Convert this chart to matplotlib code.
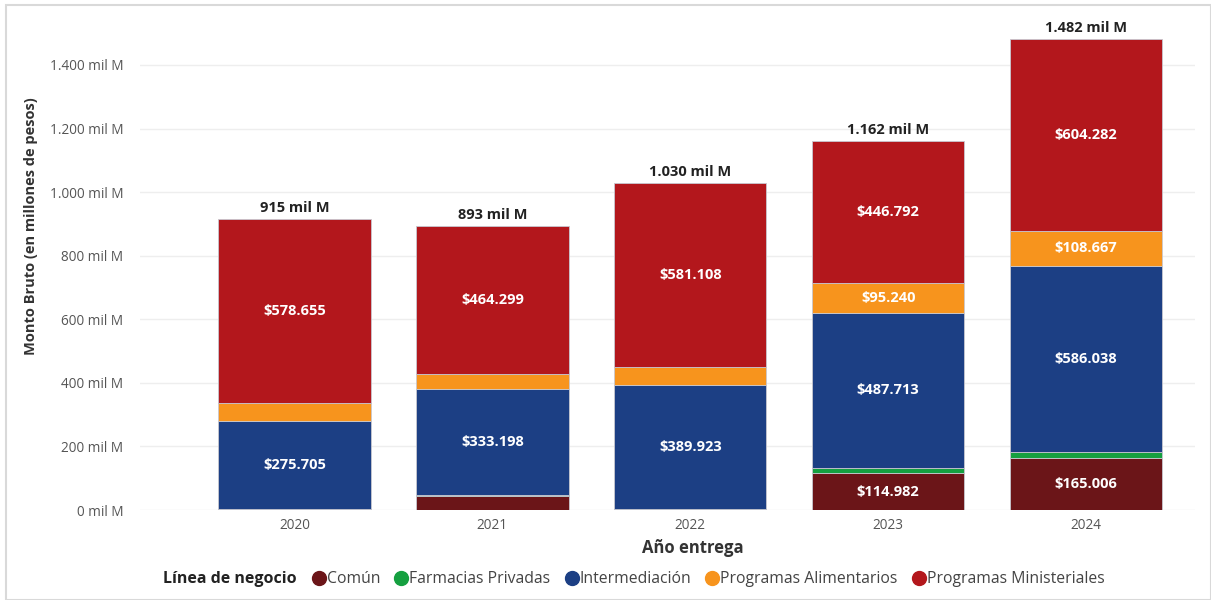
import matplotlib.pyplot as plt
import numpy as np
from matplotlib.lines import Line2D
from matplotlib.patches import Rectangle

plt.rcParams['font.family'] = ['Open Sans', 'DejaVu Sans']

# values in "mil M" (thousands of millions of pesos)
years = ["2020", "2021", "2022", "2023", "2024"]
series_names = ["Común", "Farmacias Privadas", "Intermediación",
                "Programas Alimentarios", "Programas Ministeriales"]
comun = [3.0, 44.0, 0.5, 114.982, 165.006]
farmacias = [1.5, 2.0, 3.0, 17.3, 18.0]
intermediacion = [275.705, 333.198, 389.923, 487.713, 586.038]
alimentarios = [56.5, 49.5, 55.5, 95.240, 108.667]
ministeriales = [578.655, 464.299, 581.108, 446.792, 604.282]
y_ticks = [0, 200, 400, 600, 800, 1000, 1200, 1400]

colors = ["#6B1518", "#15A040", "#1C3F84", "#F7941D", "#B3171C"]
series = [comun, farmacias, intermediacion, alimentarios, ministeriales]

fig = plt.figure(figsize=(12.11, 6), dpi=100)
ax = fig.add_axes([140 / 1211, 90 / 600, 1055 / 1211, 500 / 600])

x = np.arange(len(years))
bottom = np.zeros(len(years))
for name, vals, col in zip(series_names, series, colors):
    vals = np.array(vals)
    ax.bar(x, vals, 0.77, bottom=bottom, color=col, label=name,
           edgecolor='#c8c8d0', linewidth=0.6, zorder=2)
    for xi, b, v in zip(x, bottom, vals):
        if v > 90:
            ax.text(xi, b + v / 2, f"${v:.3f}", ha='center', va='center',
                    color='white', fontsize=10.5, fontweight='bold', zorder=3)
    bottom += vals

for xi, t in zip(x, bottom):
    lab = f"{round(t):,} mil M".replace(",", ".")
    ax.text(xi, t + 12, lab, ha='center', va='bottom', fontsize=10.5,
            fontweight='bold', color='#222222')

ax.set_xlim(-0.78, 4.55)
ax.set_ylim(0, 1573)
ax.set_xticks(x)
ax.set_xticklabels(years)
ax.set_yticks(y_ticks)
ax.set_yticklabels([f"{v:,} mil M".replace(",", ".") for v in y_ticks])
ax.tick_params(axis='both', length=0, labelsize=9.8, colors='#555555')
ax.tick_params(axis='y', pad=12)
ax.tick_params(axis='x', pad=6)
ax.grid(axis='y', color='#eeeeee', linewidth=1, zorder=0)
for s in ax.spines.values():
    s.set_visible(False)

fig.text(31 / 1211, 1 - 226 / 600, "Monto Bruto (en millones de pesos)",
         rotation=90, ha='center', va='center', fontsize=10.5,
         fontweight='bold', color='#333333')
fig.text(693 / 1211, 1 - 548 / 600, "Año entrega", ha='center', va='center',
         fontsize=12, fontweight='bold', color='#333333')

# legend
fig.text(163 / 1211, 1 - 579 / 600, "Línea de negocio", ha='left', va='center',
         fontsize=11.5, fontweight='bold', color='#222222')
handles = [Line2D([], [], marker='o', linestyle='', markersize=10,
                  markerfacecolor=c, markeredgecolor=c) for c in colors]
fig.legend(handles, series_names, loc='center left',
           bbox_to_anchor=(311 / 1211, 1 - 579 / 600), ncol=5, frameon=False,
           handletextpad=0.0, columnspacing=0.85, handlelength=1.0,
           fontsize=11.3, labelcolor='#444444', borderaxespad=0, borderpad=0)

fig.patches.append(Rectangle((6 / 1211, 0), 1 - 6 / 1211, 1 - 5 / 600,
                             transform=fig.transFigure, fill=False,
                             edgecolor='#d9d9d9', linewidth=1.5))

fig.savefig("out.png", dpi=100)
